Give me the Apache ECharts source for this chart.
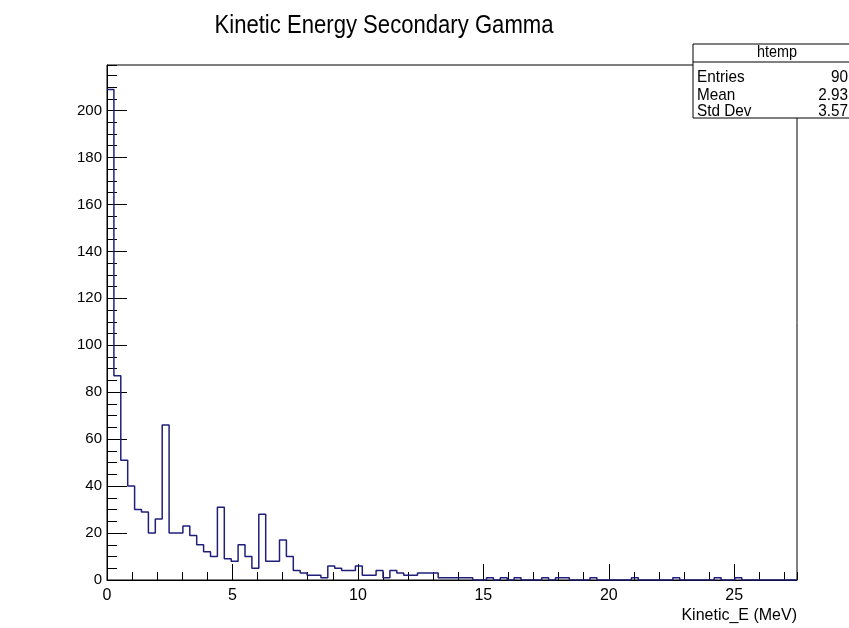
<!DOCTYPE html>
<html>
<head>
<meta charset="utf-8">
<script src="https://cdn.jsdelivr.net/npm/echarts@6/dist/echarts.min.js"></script>
<style>
html,body{margin:0;padding:0;background:#fff;}
#chart{width:849px;height:628px;}
</style>
</head>
<body>
<div id="chart"></div>
<script>
// Histogram definition (100 bins from 0 to 27.5 MeV)
const xMin = 0;
const xMax = 27.5;
const nBins = 100;
const binWidth = (xMax - xMin) / nBins;

// Bin counts
const counts = [
  209, 87, 51, 40, 30, 29, 20, 26, 66, 20,
  20, 23, 19, 15, 12, 10, 31, 9, 8, 15,
  10, 5, 28, 8, 8, 17, 10, 4, 3, 2,
  2, 1, 6, 5, 4, 4, 6, 2, 2, 4,
  1, 4, 3, 2, 2, 3, 3, 3, 1, 1,
  1, 1, 1, 0, 0, 1, 0, 1, 0, 1,
  0, 0, 0, 1, 0, 1, 1, 0, 0, 0,
  1, 0, 0, 0, 0, 0, 1, 0, 0, 0,
  0, 0, 1, 0, 0, 0, 0, 0, 1, 0,
  0, 1, 0, 0, 0, 0, 0, 0, 0, 0
];

const titleText = "Kinetic Energy Secondary Gamma";
const xAxisName = "Kinetic_E (MeV)";
const statName = "htemp";
const statLabels = ["Entries", "Mean", "Std Dev"];
const statValues = ["90", "2.93", "3.57"];

const yMax = 219.4;

// step-line points at bin left edges (+ final right edge)
const histPoints = counts.map((c, i) => [xMin + i * binWidth, c]);
histPoints.push([xMax, counts[counts.length - 1]]);

const FONT = "'Liberation Sans', Arial, sans-serif";

const chart = echarts.init(document.getElementById('chart'), null, {renderer: 'canvas'});

const rowY = [77, 95, 111];
const statRows = statLabels.map((lab, i) => [
  {type: 'text', x: 697, y: rowY[i], scaleX: 0.9, style: {text: lab, font: "17px " + FONT, fill: '#000', align: 'left', verticalAlign: 'middle'}},
  {type: 'text', x: 848, y: rowY[i], scaleX: 0.9, style: {text: statValues[i], font: "17px " + FONT, fill: '#000', align: 'right', verticalAlign: 'middle'}}
]).flat();

chart.setOption({
  animation: false,
  backgroundColor: '#fff',
  grid: {left: 107, right: 52, top: 65, bottom: 48, show: true, borderColor: '#000', borderWidth: 1, backgroundColor: '#fff'},
  xAxis: [
    {
      type: 'value', min: xMin, max: xMax, interval: 5,
      position: 'bottom',
      name: xAxisName, nameLocation: 'end', nameGap: 0,
      nameTextStyle: {fontFamily: FONT, fontSize: 16, color: '#000', align: 'right', verticalAlign: 'top', padding: [28, 0, 0, 0]},
      axisLine: {show: true, lineStyle: {color: '#000', width: 1}},
      axisTick: {show: true, inside: true, length: 16, lineStyle: {color: '#000'}},
      axisLabel: {show: true, margin: 8, fontFamily: FONT, fontSize: 16, color: '#000', showMaxLabel: false},
      splitLine: {show: false}
    },
    {
      type: 'value', min: xMin, max: xMax, interval: 1,
      position: 'bottom', offset: 0,
      axisLine: {show: false},
      axisTick: {show: true, inside: true, length: 8, lineStyle: {color: '#000'}},
      axisLabel: {show: false},
      splitLine: {show: false}
    }
  ],
  yAxis: [
    {
      type: 'value', min: 0, max: yMax, interval: 20,
      position: 'left',
      axisLine: {show: true, lineStyle: {color: '#000', width: 1}},
      axisTick: {show: true, inside: true, length: 20, lineStyle: {color: '#000'}},
      axisLabel: {show: true, margin: 5, fontFamily: FONT, fontSize: 15, color: '#000', showMaxLabel: false},
      splitLine: {show: false}
    },
    {
      type: 'value', min: 0, max: yMax, interval: 5,
      position: 'left', offset: 0,
      axisLine: {show: false},
      axisTick: {show: true, inside: true, length: 10, lineStyle: {color: '#000'}},
      axisLabel: {show: false},
      splitLine: {show: false}
    }
  ],
  series: [{
    type: 'line',
    xAxisIndex: 0, yAxisIndex: 0,
    step: 'end',
    data: histPoints,
    showSymbol: false,
    symbol: 'none',
    lineStyle: {color: '#1f1f7a', width: 1.5},
    z: 3
  }],
  graphic: [
    {type: 'text', x: 384, y: 26, scaleX: 0.85, style: {text: titleText, font: "26px " + FONT, fill: '#000', align: 'center', verticalAlign: 'middle'}, z: 11},
    {type: 'rect', shape: {x: 693, y: 44, width: 170, height: 74}, style: {fill: '#fff', stroke: '#000', lineWidth: 1}, z: 10},
    {type: 'line', shape: {x1: 693, y1: 62, x2: 849, y2: 62}, style: {stroke: '#000', lineWidth: 1}, z: 11},
    {type: 'text', x: 777, y: 53, scaleX: 0.9, style: {text: statName, font: "16px " + FONT, fill: '#000', align: 'center', verticalAlign: 'middle'}, z: 11},
    ...statRows.map(e => Object.assign(e, {z: 11}))
  ]
});
</script>
</body>
</html>
